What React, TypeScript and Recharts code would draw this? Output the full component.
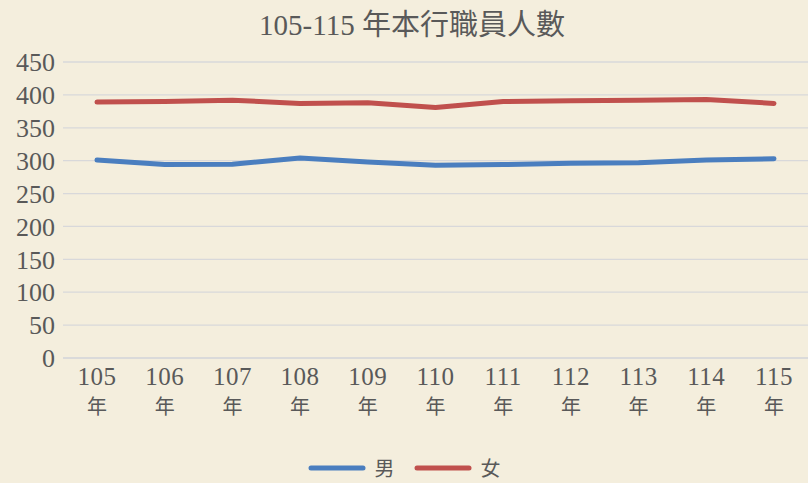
import React from "react";
import { LineChart, Line, XAxis, YAxis, CartesianGrid, Legend } from "recharts";

const categories = ["105", "106", "107", "108", "109", "110", "111", "112", "113", "114", "115"];
const maleValues = [301, 294, 294.5, 304, 298, 293, 294, 296, 297, 301, 303];
const femaleValues = [389, 390, 392, 387, 388, 381, 390, 391, 392, 393, 387];
const yTicks = [0, 50, 100, 150, 200, 250, 300, 350, 400, 450];
const seriesNames = { male: "男", female: "女" };
const seriesOrder = ["male", "female"];
const titleText = "105-115 年本行職員人數";
const yearSuffix = "年";

const data = categories.map((c, i) => ({ year: c, male: maleValues[i], female: femaleValues[i] }));

const TEXT = "#595959";
const SERIF = "'Liberation Serif', 'DejaVu Serif', serif";
const CJK = "'Noto Sans CJK TC', 'Noto Sans CJK SC', sans-serif";

const XTick = (props: any) => {
  const { x, y, payload } = props;
  return (
    <g transform={`translate(${x},${y})`}>
      <text x={0} y={27} textAnchor="middle" fill={TEXT} fontFamily={SERIF} fontSize={25} letterSpacing={0.5}>
        {payload.value}
      </text>
      <text x={0} y={56} textAnchor="middle" fill={TEXT} fontFamily={CJK} fontSize={20}>
        {yearSuffix}
      </text>
    </g>
  );
};

const LegendContent = (props: any) => {
  const { payload } = props;
  const items = [...(payload || [])].sort(
    (a: any, b: any) => seriesOrder.indexOf(a.dataKey) - seriesOrder.indexOf(b.dataKey)
  );
  return (
    <div style={{ display: "flex", justifyContent: "center", alignItems: "center", height: 30 }}>
      {items.map((p: any, i: number) => (
        <div key={i} style={{ display: "flex", alignItems: "center", marginLeft: i === 0 ? 0 : 19 }}>
          <svg width={58} height={8} style={{ display: "block" }}>
            <line x1={3} y1={4} x2={55} y2={4} stroke={p.color} strokeWidth={5} strokeLinecap="round" />
          </svg>
          <span style={{ fontFamily: CJK, fontSize: 20, color: TEXT, marginLeft: 9, lineHeight: "20px" }}>{p.value}</span>
        </div>
      ))}
    </div>
  );
};

export default function App() {
  return (
    <div
      style={{
        position: "absolute",
        left: 0,
        top: 0,
        width: 808,
        height: 483,
        background: "#F4EEDD",
        overflow: "hidden",
      }}
    >
      <div
        style={{
          position: "absolute",
          left: 0,
          top: 8,
          width: 824,
          textAlign: "center",
          color: TEXT,
          fontSize: 29,
          lineHeight: "34px",
          fontFamily: `${SERIF.split(",")[0]}, ${CJK}`,
        }}
      >
        {titleText}
      </div>
      <LineChart width={808} height={483} data={data} margin={{ top: 62, right: 0, left: 0, bottom: 0 }}>
        <CartesianGrid vertical={false} stroke="#D8D8DA" strokeWidth={1.3} />
        <XAxis
          dataKey="year"
          axisLine={{ stroke: "#D8D8DA", strokeWidth: 1.3 }}
          tickLine={false}
          tickSize={0}
          tickMargin={0}
          height={95}
          tick={<XTick />}
          interval={0}
          padding={{ left: 34, right: 34 }}
        />
        <YAxis
          width={63}
          domain={[0, 450]}
          ticks={yTicks}
          axisLine={false}
          tickLine={false}
          tick={{ fill: TEXT, fontFamily: SERIF, fontSize: 26 }}
          interval={0}
        />
        <Legend verticalAlign="bottom" height={30} content={<LegendContent />} />
        <Line
          type="linear"
          dataKey="male"
          name={seriesNames.male}
          stroke="#4A7EBF"
          strokeWidth={5}
          strokeLinecap="round"
          strokeLinejoin="round"
          dot={false}
          activeDot={false}
          isAnimationActive={false}
        />
        <Line
          type="linear"
          dataKey="female"
          name={seriesNames.female}
          stroke="#C0504D"
          strokeWidth={5}
          strokeLinecap="round"
          strokeLinejoin="round"
          dot={false}
          activeDot={false}
          isAnimationActive={false}
        />
      </LineChart>
    </div>
  );
}
